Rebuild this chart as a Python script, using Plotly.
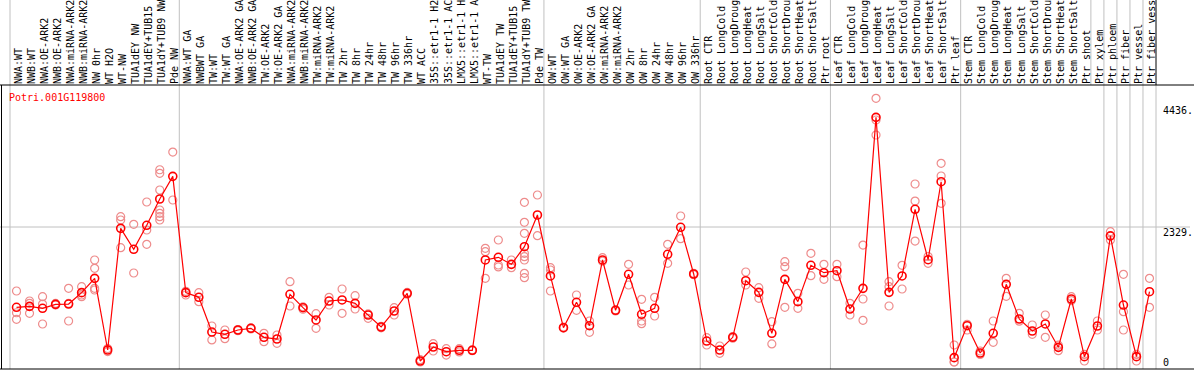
import plotly.graph_objects as go

gene = "Potri.001G119800"

labels = [
    "NWA:WT", "NWB:WT", "NWA:OE-ARK2", "NWB:OE-ARK2", "NWA:miRNA-ARK2", "NWB:miRNA-ARK2",
    "NW 0hr", "WT H2O", "WT-NW", "TUA1dEY NW", "TUA1dEY+TUB15", "TUA1dY+TUB9 NW", "Pde NW",
    "NWA:WT GA", "NWBWT GA", "TW:WT", "TW:WT GA", "NWA:OE-ARK2 GA", "NWB:OE-ARK2 GA",
    "TW:OE-ARK2", "TW:OE-ARK2 GA", "NWA:miRNA-ARK2", "NWB:miRNA-ARK2", "TW:miRNA-ARK2",
    "TW:miRNA-ARK2", "TW 2hr", "TW 8hr", "TW 24hr", "TW 48hr", "TW 96hr", "TW 336hr",
    "WT ACC", "35S::etr1-1 H2", "35S::etr1-1 AC", "LMX5::etr1-1 H", "LMX5::etr1-1 A",
    "WT-TW", "TUA1dEY TW", "TUA1dEY+TUB15", "TUA1dY+TUB9 TW", "Pde TW",
    "OW:WT", "OW:WT GA", "OW:OE-ARK2", "OW:OE-ARK2 GA", "OW:miRNA-ARK2", "OW:miRNA-ARK2",
    "OW 2hr", "OW 8hr", "OW 24hr", "OW 48hr", "OW 96hr", "OW 336hr",
    "Root CTR", "Root LongCold", "Root LongDroug", "Root LongHeat", "Root LongSalt",
    "Root ShortCold", "Root ShortDrou", "Root ShortHeat", "Root ShortSalt", "Ptr root",
    "Leaf CTR", "Leaf LongCold", "Leaf LongDroug", "Leaf LongHeat", "Leaf LongSalt",
    "Leaf ShortCold", "Leaf ShortDrou", "Leaf ShortHeat", "Leaf ShortSalt", "Ptr leaf",
    "Stem CTR", "Stem LongCold", "Stem LongDroug", "Stem LongHeat", "Stem LongSalt",
    "Stem ShortCold", "Stem ShortDrou", "Stem ShortHeat", "Stem ShortSalt", "Ptr shoot",
    "Ptr xylem", "Ptr phloem", "Ptr fiber", "Ptr vessel", "Ptr fiber vess",
]

means = [
    944, 960, 926, 995, 1000, 1196, 1443, 207, 2306, 1944, 2358, 2812, 3203,
    1196, 1116, 517, 478, 552, 581, 426, 397, 1168, 937, 725, 1052, 1070, 1012, 811,
    604, 880, 1185, 17, 259, 178, 202, 202, 1760, 1806, 1685, 1989, 2536,
    1484, 592, 1030, 626, 1760, 892, 1513, 823, 926, 1858, 2324, 1518,
    362, 207, 426, 1403, 1202, 495, 1426, 1041, 1668, 1541,
    1575, 914, 1271, 4221, 1202, 1484, 2634, 1765, 3110, 75,
    626, 155, 495, 1340, 742, 535, 656, 253, 1087, 92,
    621, 2176, 983, 92, 1213,
]

replicates = [
    [1225, 850, 737], [1052, 1012, 840], [1127, 1000, 656], [1010, 985], [1271, 1010, 707],
    [1300, 1156, 1127], [1760, 1616, 1271, 1242], [232, 180], [2507, 2450, 1972], [2375, 1535],
    [2760, 2277, 2030], [3317, 3255, 2967, 2622, 2565, 2507, 2450], [3622, 2795],
    [1156, 1220], [1196, 1040], [621, 380], [552, 402], [560, 540], [590, 570], [495, 350],
    [466, 322], [1385, 966], [950, 910], [833, 581], [1116, 983], [1259, 840], [1144, 914],
    [754, 830], [590, 615], [937, 811], [1200, 1170], [40, 0], [316, 190], [230, 120],
    [173, 230], [210, 195], [1961, 1903, 1444], [2105, 1673, 1640], [1760, 1627],
    [2755, 2410, 2220, 1875, 1817, 1760, 1530, 1454], [2881, 2179],
    [1627, 1587, 1225], [600, 585], [1156, 892], [707, 512], [1800, 1740], [900, 880],
    [1685, 1328], [1082, 707, 661], [1116, 794], [2030, 1703], [2519, 2127], [1530, 1505],
    [420, 293], [276, 150], [440, 410], [1553, 1328], [1282, 1099], [695, 311],
    [1731, 1645, 943], [1185, 926], [1875, 1489], [1685, 1426],
    [1685, 1472], [1012, 811], [2018, 1087, 719], [4549, 4175, 3916], [1385, 1300, 966],
    [1668, 1259], [3071, 2777, 2087], [1703, 1820], [3428, 3209, 2738], [293, 0, 0],
    [650, 552], [190, 130], [707, 340], [1444, 1133], [840, 705], [638, 478], [811, 426],
    [290, 195], [1127, 1060], [130, 17],
    [707, 552], [2248, 2105], [1513, 868, 552], [130, 17], [1444, 943],
]

group_ends = [0, 13, 41, 53, 63, 73, 84, 85, 86, 87]
label_only_ends = [83]
y_ticks = [4436, 2329, 0]
y_tick_text = ["4436.", "2329.", "0"]
ref_level = 2329

n = len(labels)
xs = list(range(n))
rep_x = [i for i, r in enumerate(replicates) for _ in r]
rep_y = [v for r in replicates for v in r]

W, H = 1194, 370
ML, MR, MT, MB = 10, 38, 85, 1
PW, PH = W - ML - MR, H - MT - MB


def px(x):
    return (x - ML) / PW


def py(y):
    return (H - MB - y) / PH


MONO = "DejaVu Sans Mono"
GRID = "#c0c0c0"

fig = go.Figure()
fig.add_trace(go.Scatter(
    x=rep_x, y=rep_y, mode="markers",
    marker=dict(symbol="circle-open", size=8, color="rgb(238,140,140)", line=dict(width=1.2)),
    hoverinfo="skip", showlegend=False,
))
fig.add_trace(go.Scatter(
    x=xs, y=means, mode="lines+markers",
    line=dict(color="red", width=1.2),
    marker=dict(symbol="circle-open", size=8, color="red", line=dict(width=1.6)),
    showlegend=False,
))

shapes = []
top_page = py(0)
for b in group_ends:
    shapes.append(dict(type="line", xref="paper", yref="paper", x0=b / n, x1=b / n,
                       y0=0, y1=top_page, line=dict(color=GRID, width=1), layer="below"))
for b in label_only_ends:
    shapes.append(dict(type="line", xref="paper", yref="paper", x0=b / n, x1=b / n,
                       y0=1, y1=top_page, line=dict(color=GRID, width=1), layer="below"))
shapes.append(dict(type="line", xref="paper", yref="paper", x0=1, x1=1,
                   y0=0, y1=1, line=dict(color=GRID, width=1), layer="below"))
shapes.append(dict(type="line", xref="paper", yref="paper", x0=1, x1=1,
                   y0=1, y1=top_page, line=dict(color="black", width=1)))
shapes.append(dict(type="line", xref="paper", yref="y", x0=px(0), x1=px(1190),
                   y0=ref_level, y1=ref_level, line=dict(color=GRID, width=1), layer="below"))
shapes.append(dict(type="line", xref="paper", yref="paper", x0=px(0), x1=px(W),
                   y0=1, y1=1, line=dict(color="black", width=1)))
shapes.append(dict(type="line", xref="paper", yref="paper", x0=px(0), x1=px(W),
                   y0=0, y1=0, line=dict(color="black", width=1)))
shapes.append(dict(type="line", xref="paper", yref="paper", x0=px(1.5), x1=px(1.5),
                   y0=0, y1=1, line=dict(color="black", width=1)))

annotations = [dict(
    text=gene, xref="paper", yref="paper", x=px(9), y=py(97), xanchor="left", yanchor="middle",
    showarrow=False, font=dict(family=MONO, size=10, color="red"), borderpad=0, borderwidth=0,
)]
for v, t in zip(y_ticks, y_tick_text):
    annotations.append(dict(
        text=t, xref="paper", yref="y", x=px(1163), y=v,
        xanchor="left", yanchor="middle" if v == 0 else "top",
        showarrow=False, font=dict(family=MONO, size=10, color="black"),
        borderpad=0, borderwidth=0,
    ))

y_lo = (362 - (H - MB)) / (135 / 2329)
y_hi = (362 - MT) / (135 / 2329)

fig.update_layout(
    width=W, height=H,
    margin=dict(l=ML, r=MR, t=MT, b=MB, pad=0),
    paper_bgcolor="white", plot_bgcolor="white",
    xaxis=dict(
        range=[-0.5, n - 0.5], side="top", tickmode="array", tickvals=xs, ticktext=labels,
        tickangle=-90, tickfont=dict(family=MONO, size=10, color="black"),
        ticklabelshift=2,
        ticks="", showgrid=False, zeroline=False, showline=False, automargin=False,
        fixedrange=True,
    ),
    yaxis=dict(
        range=[y_lo, y_hi], showticklabels=False, ticks="", showgrid=False,
        zeroline=False, showline=False, automargin=False, fixedrange=True,
    ),
    shapes=shapes,
    annotations=annotations,
)

fig.write_html("out.html", config={"displayModeBar": False},
               post_script="document.body.style.margin='0';")
